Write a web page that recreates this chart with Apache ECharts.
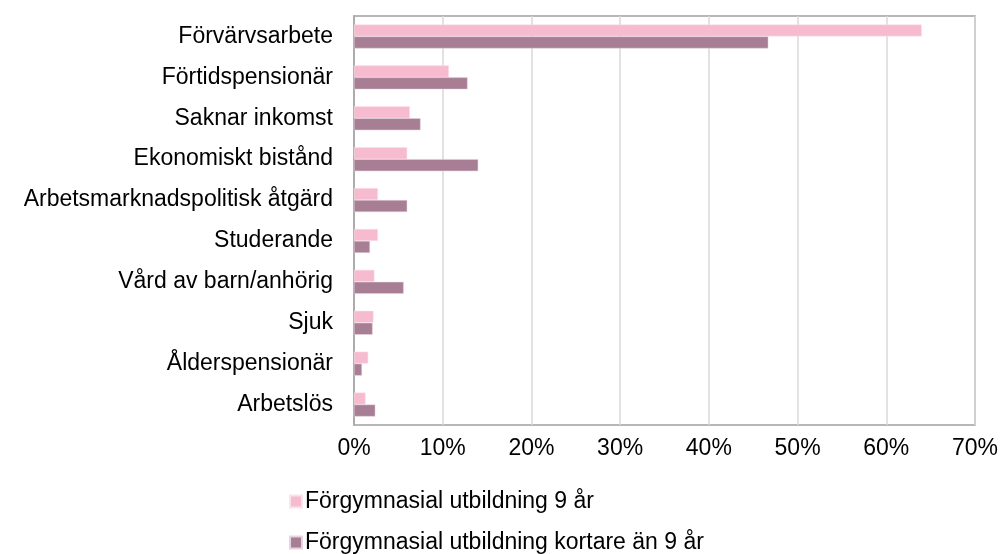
<!DOCTYPE html>
<html>
<head>
<meta charset="utf-8">
<script src="https://cdn.jsdelivr.net/npm/echarts@6/dist/echarts.min.js"></script>
<style>
  html, body { margin: 0; padding: 0; background: #fff; }
  #chart { width: 1001px; height: 554px; }
</style>
</head>
<body>
<div id="chart"></div>
<script>
// kategorier uppifrån och ned
var categories = [
  'Förvärvsarbete',
  'Förtidspensionär',
  'Saknar inkomst',
  'Ekonomiskt bistånd',
  'Arbetsmarknadspolitisk åtgärd',
  'Studerande',
  'Vård av barn/anhörig',
  'Sjuk',
  'Ålderspensionär',
  'Arbetslös'
];
var seriesNames = ['Förgymnasial utbildning 9 år', 'Förgymnasial utbildning kortare än 9 år'];
var nio = [64.0, 10.7, 6.3, 6.0, 2.7, 2.7, 2.3, 2.2, 1.6, 1.3];
var kortare = [46.7, 12.8, 7.5, 14.0, 6.0, 1.8, 5.6, 2.1, 0.9, 2.4];
var xTicks = [0, 10, 20, 30, 40, 50, 60, 70];

var font = 'Liberation Sans, Arial, sans-serif';
var fs = 23;
var chart = echarts.init(document.getElementById('chart'));
chart.setOption({
  animation: false,
  textStyle: { fontFamily: font },
  grid: {
    left: 354, right: 25, top: 16, bottom: 129,
    show: true, borderColor: '#A0A0A0', borderWidth: 1.5
  },
  legend: {
    orient: 'vertical',
    left: 289, top: 490,
    height: 80,
    padding: 0,
    itemGap: 18,
    itemWidth: 12, itemHeight: 12,
    icon: 'rect',
    textStyle: { fontSize: fs, color: '#000', fontFamily: font, padding: [0, 0, 0, -2] },
    data: seriesNames
  },
  xAxis: {
    type: 'value',
    min: xTicks[0], max: xTicks[xTicks.length - 1], interval: 10,
    axisLine: { show: false },
    axisTick: { show: false },
    splitLine: { lineStyle: { color: '#D9D9D9', width: 1.5 } },
    axisLabel: { fontSize: fs, color: '#000', margin: 12, formatter: '{value}%' }
  },
  yAxis: {
    type: 'category',
    inverse: true,
    data: categories,
    axisLine: { lineStyle: { color: '#A0A0A0', width: 1.5 } },
    axisTick: { show: false },
    axisLabel: { fontSize: fs, color: '#000', margin: 21 }
  },
  series: [
    {
      name: seriesNames[0], type: 'bar', data: nio,
      barWidth: 12, barGap: '0%',
      itemStyle: { color: '#F7BBD0', borderColor: '#FBE3EC', borderWidth: 0.5 }
    },
    {
      name: seriesNames[1], type: 'bar', data: kortare,
      barWidth: 12, barGap: '0%',
      itemStyle: { color: '#A87E95', borderColor: '#E6D5DE', borderWidth: 0.5 }
    }
  ]
});
</script>
</body>
</html>
